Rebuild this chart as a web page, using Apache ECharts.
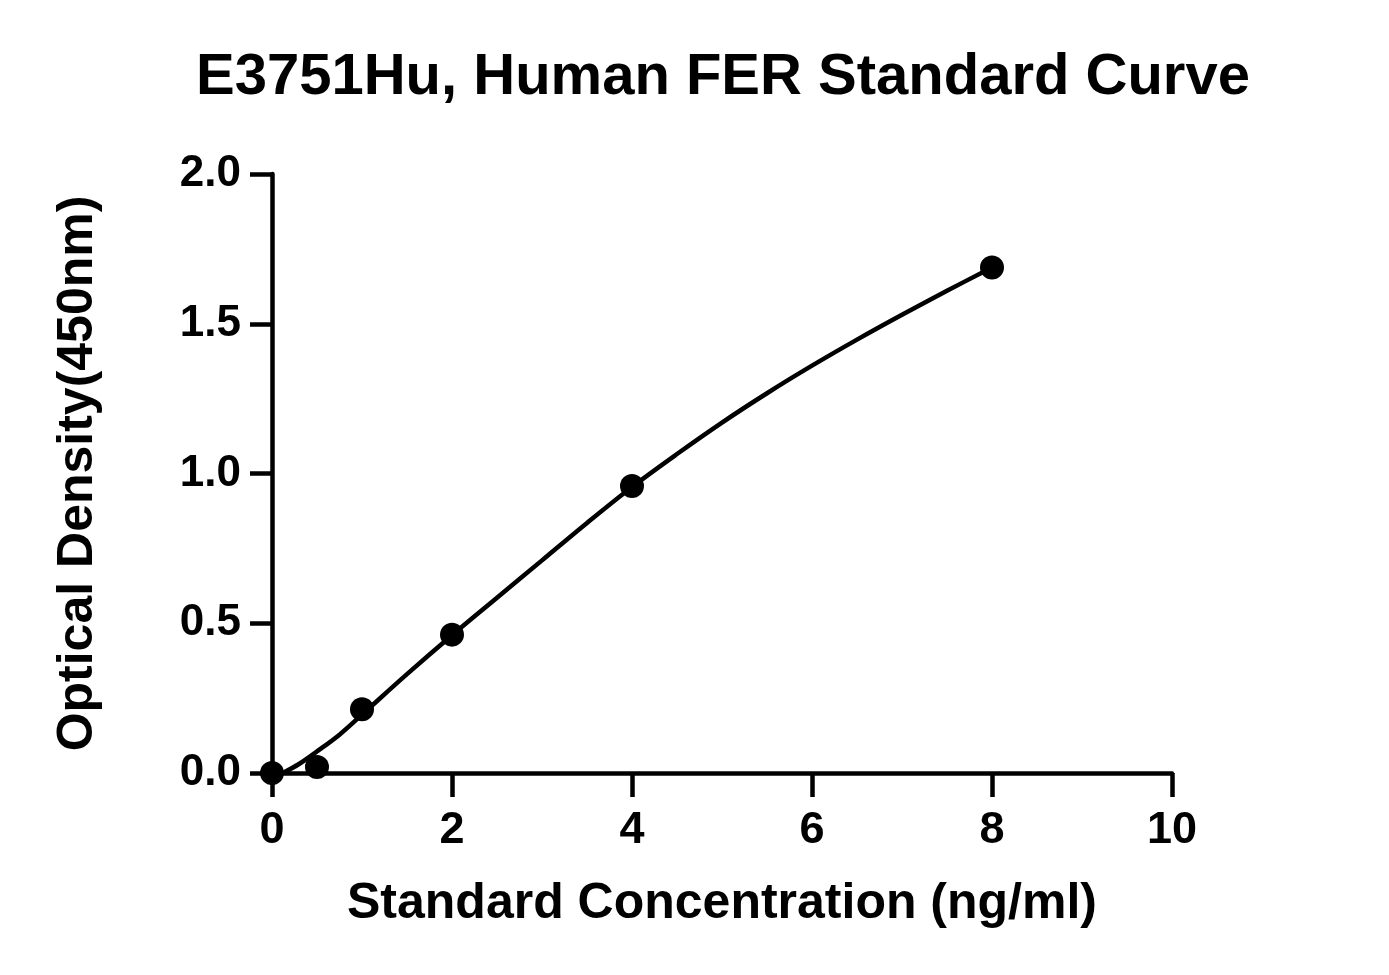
<!DOCTYPE html>
<html><head><meta charset="utf-8">
<script src="https://cdn.jsdelivr.net/npm/echarts@6/dist/echarts.min.js"></script>
<style>html,body{margin:0;padding:0;background:#fff}#c{width:1389px;height:975px}</style>
</head><body><div id="c"></div>
<script>
// Standard points
var concentrations = [0, 0.5, 1, 2, 4, 8];
var odValues = [0.0, 0.02, 0.213, 0.462, 0.958, 1.688];
// Fitted curve
var curveX = [0.12, 0.3, 0.5, 0.75, 1, 1.5, 2, 2.5, 3, 3.5, 4, 4.5, 5, 5.5, 6, 6.5, 7, 7.5, 8];
var curveY = [0.0, 0.03, 0.072, 0.128, 0.195, 0.33, 0.46, 0.585, 0.71, 0.835, 0.955, 1.065, 1.17, 1.268, 1.36, 1.447, 1.53, 1.61, 1.688];
var xTicks = [0, 2, 4, 6, 8, 10];
var yTicks = [0.0, 0.5, 1.0, 1.5, 2.0];

var font = '"Liberation Sans", Arial, sans-serif';
var chart = echarts.init(document.getElementById('c'));
chart.setOption({
  backgroundColor: '#fff',
  animation: false,
  title: {
    text: 'E3751Hu, Human FER Standard Curve',
    left: 191, top: 44,
    textStyle: {fontFamily: font, fontWeight: 'bold', fontSize: 58, color: '#000'}
  },
  grid: {left: 272, right: 217, top: 174, bottom: 202, containLabel: false},
  xAxis: {
    type: 'value', min: xTicks[0], max: xTicks[xTicks.length - 1], interval: 2,
    name: 'Standard Concentration (ng/ml)', nameLocation: 'middle', nameGap: 106,
    nameTextStyle: {fontFamily: font, fontWeight: 'bold', fontSize: 50, color: '#000'},
    axisLine: {show: true, lineStyle: {color: '#000', width: 4.5}},
    axisTick: {show: true, length: 24, lineStyle: {color: '#000', width: 4.5}},
    axisLabel: {fontFamily: font, fontWeight: 'bold', fontSize: 45, color: '#000', margin: 35},
    splitLine: {show: false}
  },
  yAxis: {
    type: 'value', min: yTicks[0], max: yTicks[yTicks.length - 1], interval: 0.5,
    name: 'Optical Density(450nm)', nameLocation: 'middle', nameGap: 169,
    nameTextStyle: {fontFamily: font, fontWeight: 'bold', fontSize: 50, color: '#000'},
    axisLine: {show: true, lineStyle: {color: '#000', width: 4.5}},
    axisTick: {show: true, length: 22, lineStyle: {color: '#000', width: 4.5}},
    axisLabel: {fontFamily: font, fontWeight: 'bold', fontSize: 44, color: '#000', margin: 31,
      formatter: function (v) { return v.toFixed(1); }},
    splitLine: {show: false}
  },
  series: [
    {
      type: 'line', smooth: 0.35, symbol: 'none',
      data: curveX.map(function (x, i) { return [x, curveY[i]]; }),
      lineStyle: {color: '#000', width: 4.5}, z: 2
    },
    {
      type: 'scatter', symbol: 'circle', symbolSize: 24,
      data: concentrations.map(function (x, i) { return [x, odValues[i]]; }),
      itemStyle: {color: '#000', opacity: 1}, z: 3
    }
  ]
});
</script></body></html>
